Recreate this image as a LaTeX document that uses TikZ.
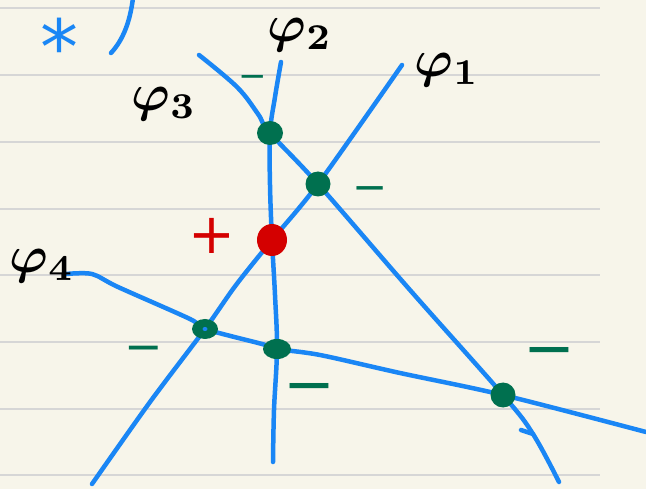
\documentclass[tikz,border=0pt]{standalone}
\usepackage{fontspec}
\newfontfamily\dvs{DejaVu Sans}
\usetikzlibrary{calc}
\definecolor{paper}{HTML}{F7F5EA}
\definecolor{rule}{HTML}{D6D6D6}
\definecolor{pblue}{HTML}{1A86F5}
\definecolor{pgreen}{HTML}{00704F}
\definecolor{pred}{HTML}{D40000}
\newcommand{\philbl}[1]{\scalebox{5.2}{\mathversion{bold}$\varphi_{#1}$}}
\tikzset{
  curve/.style={draw=pblue,line width=4.5pt,line cap=round,line join=round},
  lbl/.style={inner sep=0pt,text=black},
  minus/.style={inner sep=0pt,text=pgreen,font=\dvs\fontsize{#1}{#1}\selectfont},
}
\begin{document}
\begin{tikzpicture}[x=1pt,y=-1pt]
\fill[paper] (0,0) rectangle (646,489);
\useasboundingbox (0,0) rectangle (646,489);
% ruled lines
\foreach \yy in {8,75,142,209,275,342,409,475}
  \draw[rule,line width=1.6pt] (0,\yy) -- (600,\yy);
% intersection points
\coordinate (p32) at (270,133);
\coordinate (p13) at (318,184);
\coordinate (p12) at (272,240);
\coordinate (p14) at (205,329);
\coordinate (p24) at (277,349);
\coordinate (p34) at (503,395);
% phi1
\draw[curve] plot[smooth,tension=0.5] coordinates {(402,65) (p13) (p12) (236,285) (p14) (150,402) (92,484)};
% phi2
\draw[curve] plot[smooth,tension=0.6] coordinates {(281,62) (275,97) (p32) (270,185) (p12) (275,295) (p24) (274,410) (273,462)};
% phi3
\draw[curve] plot[smooth,tension=0.6] coordinates {(199,55) (237,87) (258,114) (p32) (p13) (410,290) (p34) (533,434) (559,482)};
\draw[curve] (521,430) -- (533,434);
% phi4
\draw[curve] plot[smooth,tension=0.5] coordinates {(66,274) (92,274) (118,287) (190,319) (p14) (262,344) (p24) (320,355) (400,373) (p34) (646,432)};
% arc and star
\draw[curve] (133,-2) .. controls (130,22) and (123,40) .. (111,53);
\node[inner sep=0pt,text=pblue,font=\dvs\fontsize{76}{76}\selectfont] (star) at (60,46) {*};
% dots
\fill[pgreen] (p32) ellipse (13pt and 12pt);
\fill[pgreen] (p13) ellipse (12.5pt and 12.5pt);
\fill[pgreen] (p14) ellipse (13pt and 10pt);
\fill[pblue] (p14) ellipse (2.5pt and 2pt);
\fill[pgreen] (p24) ellipse (14pt and 10pt);
\fill[pgreen] (p34) ellipse (12.5pt and 12.5pt);
\fill[pred] (p12) ellipse (15pt and 16pt);
% labels
\node[lbl] (l1) at (447,70) {\philbl{1}};
\node[lbl] (l2) at (300,35) {\philbl{2}};
\node[lbl] (l3) at (164,104) {\philbl{3}};
\node[lbl] (l4) at (42,266) {\philbl{4}};
\node[inner sep=0pt,text=pred,font=\dvs\fontsize{56}{56}\selectfont] (plus) at (212,236) {+};
\node[minus=34] (m1) at (253,81) {−};
\node[minus=42] (m2) at (370,194) {−};
\node[minus=46] (m3) at (144,354) {−};
\node[minus=62] (m4) at (309,394) {−};
\node[minus=62] (m5) at (549,358) {−};
\end{tikzpicture}
\end{document}
